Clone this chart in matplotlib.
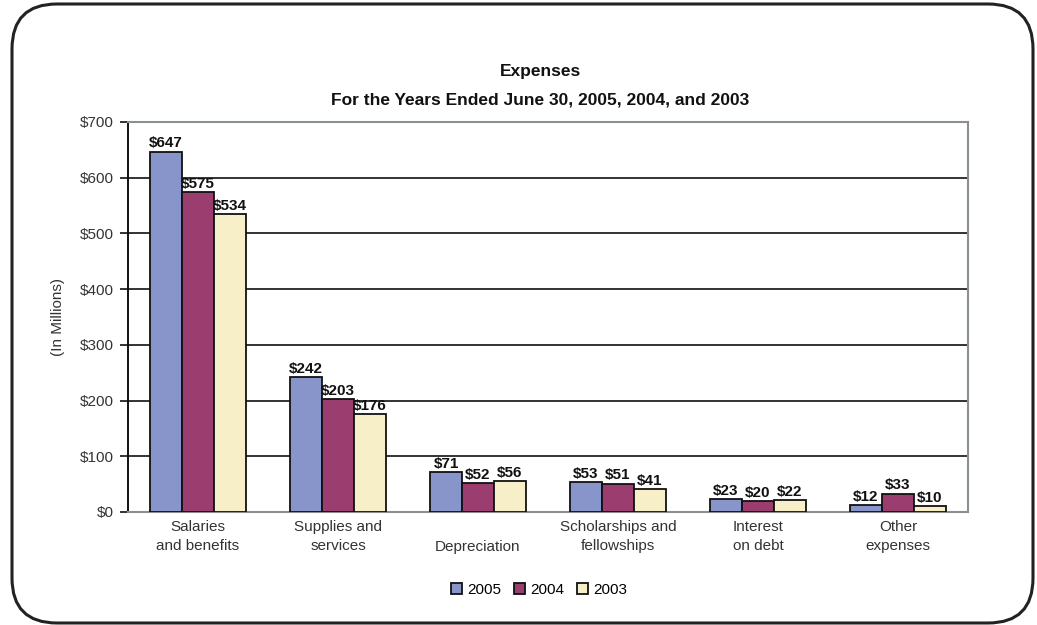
import matplotlib
matplotlib.use('Agg')
import matplotlib.pyplot as plt
import matplotlib.transforms as mtransforms
import numpy as np
from matplotlib import font_manager
from matplotlib.patches import FancyBboxPatch, Patch

# -------------------------------
# Data (in millions)
# -------------------------------
categories = ['Salaries\nand benefits', 'Supplies and\nservices', 'Depreciation',
              'Scholarships and\nfellowships', 'Interest\non debt', 'Other\nexpenses']
years = ['2005', '2004', '2003']
exp_2005 = [647, 242, 71, 53, 23, 12]
exp_2004 = [575, 203, 52, 51, 20, 33]
exp_2003 = [534, 176, 56, 41, 22, 10]
y_ticks = [0, 100, 200, 300, 400, 500, 600, 700]

colors = ['#8795CB', '#9B3D6E', '#F6EFC8']

# Narrow font if available
names = {f.name for f in font_manager.fontManager.ttflist}
font = 'Liberation Sans Narrow' if 'Liberation Sans Narrow' in names else 'Liberation Sans'
plt.rcParams['font.family'] = [font, 'DejaVu Sans']

fig = plt.figure(figsize=(10.37, 6.25), dpi=100)
ax = fig.add_axes([0.1234, 0.1808, 0.81, 0.624])

# Rounded outer frame
frame = FancyBboxPatch((0.12, 0.02), 10.21, 6.19,
                       boxstyle='round,pad=0,rounding_size=0.45',
                       transform=fig.dpi_scale_trans, fill=False,
                       edgecolor='#222222', linewidth=2.2, zorder=10)
fig.patches.append(frame)

x = np.arange(len(categories))
width = 0.228
series = [exp_2005, exp_2004, exp_2003]
for i, (vals, c, yr) in enumerate(zip(series, colors, years)):
    pos = x + (i - 1) * width
    bars = ax.bar(pos, vals, width, color=c, edgecolor='#111111', linewidth=1.3,
                  label=yr, zorder=3)
    for b, v in zip(bars, vals):
        ax.text(b.get_x() + b.get_width() / 2, v + 2, f'${v}', ha='center',
                va='bottom', fontsize=11, fontweight='bold', color='#111111',
                zorder=4)

ax.set_xlim(-0.5, len(categories) - 0.5)
ax.set_ylim(0, 700)
ax.set_yticks(y_ticks)
ax.set_yticklabels([f'${t}' for t in y_ticks], fontsize=11, color='#333333')
ax.set_xticks(x)
ax.set_xticklabels(categories, fontsize=11, color='#333333', linespacing=1.45)
ax.tick_params(axis='x', length=0, pad=6)
ax.tick_params(axis='y', length=6, width=1.2, color='#111111', pad=4)

# single-line category sits on the lower line
for lbl in ax.get_xticklabels():
    if '\n' not in lbl.get_text():
        lbl.set_transform(lbl.get_transform() +
                          mtransforms.ScaledTranslation(0, -0.2, fig.dpi_scale_trans))

ax.yaxis.grid(True, color='#111111', linewidth=1.2, zorder=0)
ax.set_axisbelow(True)
for s in ['top', 'right', 'bottom']:
    ax.spines[s].set_color('#8A8F94')
    ax.spines[s].set_linewidth(1.5)
ax.spines['left'].set_color('#111111')
ax.spines['left'].set_linewidth(1.4)
ax.spines['top'].set_zorder(5)

ax.set_ylabel('(In Millions)', fontsize=11, color='#333333', labelpad=11)

fig.text(0.521, 0.885, 'Expenses', ha='center', va='center',
         fontsize=12.5, fontweight='bold', color='#111111')
fig.text(0.521, 0.84, 'For the Years Ended June 30, 2005, 2004, and 2003',
         ha='center', va='center', fontsize=12.5, fontweight='bold', color='#111111')

handles = [Patch(facecolor=c, edgecolor='#111111', linewidth=1.3, label=yr)
           for c, yr in zip(colors, years)]
fig.legend(handles=handles, loc='center', bbox_to_anchor=(0.52, 0.056), ncol=3,
           frameon=False, fontsize=11, handlelength=0.75, handleheight=0.75,
           handletextpad=0.35, columnspacing=0.8)

fig.savefig('out.png', dpi=100)
